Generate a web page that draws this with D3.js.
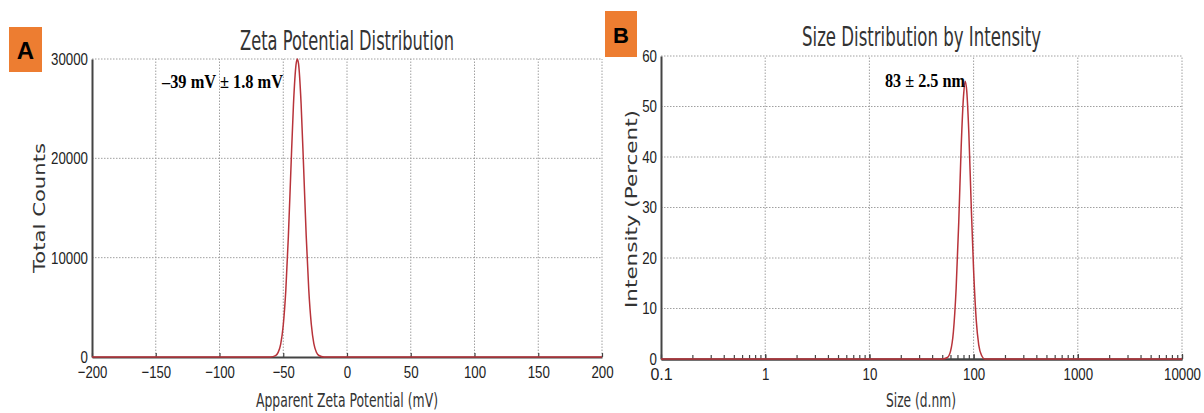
<html>
<head>
<meta charset="utf-8">
<style>
  body { margin: 0; background: #fff; }
  .tick text { font-family: "Liberation Sans", "DejaVu Sans", sans-serif; font-size: 17px; fill: #222; }
  .axis path.domain { stroke: #444; stroke-width: 2; }
  .axis line { stroke: #444; stroke-width: 1.2; }
  .grid { stroke: #a0a0a0; stroke-width: 1; stroke-dasharray: 1.5,1.5; }
</style>
</head>
<body>
<svg id="chart" width="1204" height="413"></svg>

<script src="https://d3js.org/d3.v7.min.js"></script>
<script>

// ---- data ----
// panel A: zeta potential distribution
var zetaMv     = [-200, -60, -56, -54, -52, -50, -48, -46, -44, -42, -40, -39, -38, -36, -34, -32, -30, -28, -26, -24, -22, -18, 200]
var zetaCounts = [0, 0, 140, 470, 1300, 3200, 6700, 12100, 18900, 25400, 29400, 30000, 29500, 25500, 19000, 12200, 6800, 3300, 1350, 480, 150, 0, 0]
var zetaTicks  = [-200, -150, -100, -50, 0, 50, 100, 150, 200]
var countTicks = [0, 10000, 20000, 30000]

// panel B: size distribution by intensity
var sizeNm       = [0.1, 50, 56, 60, 64, 68, 72, 76, 80, 83, 86, 90, 95, 100, 106, 112, 120, 128, 10000]
var intensityPct = [0, 0, 0.3, 1.5, 5.4, 14, 27, 42, 52, 55, 53, 44.8, 30, 17.6, 7.7, 2.8, 0.6, 0, 0]
var sizeTicks    = [0.1, 1, 10, 100, 1000, 10000]
var pctTicks     = [0, 10, 20, 30, 40, 50, 60]

var curveColor = "#b8333a"
var svg = d3.select("#chart")

svg.append("rect").attr("width", 1204).attr("height", 413).attr("fill", "#fff")

// ---- scales ----
var xA = d3.scaleLinear().domain([-200, 200]).range([92, 602])
var yA = d3.scaleLinear().domain([0, 30000]).range([357, 59])

var xB = d3.scaleLog().domain([0.1, 10000]).range([661, 1182])
var yB = d3.scaleLinear().domain([0, 60]).range([359, 56])


// dotted grid (incl. top / right border)
function grid(x, y, xt, yt) {
  svg.append("g").selectAll("line")
    .data(xt.slice(1))
    .enter().append("line")
      .attr("class", "grid")
      .attr("x1", d => x(d)).attr("x2", d => x(d))
      .attr("y1", y.range()[0]).attr("y2", y.range()[1])
  svg.append("g").selectAll("line")
    .data(yt.slice(1))
    .enter().append("line")
      .attr("class", "grid")
      .attr("x1", x.range()[0]).attr("x2", x.range()[1])
      .attr("y1", d => y(d)).attr("y2", d => y(d))
}
grid(xA, yA, zetaTicks, countTicks)
grid(xB, yB, sizeTicks, pctTicks)


// tick labels in the source are squeezed: ~7.4px per character
function squeeze(g) {
  g.selectAll(".tick text")
    .attr("textLength", function() { return this.textContent.length * 7.4 })
    .attr("lengthAdjust", "spacingAndGlyphs")
}

// ---- axes ----
svg.append("g")
  .attr("class", "axis")
  .attr("transform", "translate(0," + yA(0) + ")")
  .call(d3.axisBottom(xA).tickValues(zetaTicks).tickSize(-4).tickSizeOuter(0).tickPadding(9))
  .call(squeeze)

svg.append("g")
  .attr("class", "axis")
  .attr("transform", "translate(" + xA(-200) + ",0)")
  .call(d3.axisLeft(yA).tickValues(countTicks).tickSize(0).tickPadding(4).tickFormat(d3.format("d")))
  .call(squeeze)

// minor log ticks first, major ones on top
svg.append("g")
  .attr("class", "axis")
  .attr("transform", "translate(0," + yB(0) + ")")
  .call(d3.axisBottom(xB).tickValues(xB.ticks()).tickSize(-4).tickSizeOuter(0).tickFormat(""))

svg.append("g")
  .attr("class", "axis")
  .attr("transform", "translate(0," + yB(0) + ")")
  .call(d3.axisBottom(xB).tickValues(sizeTicks).tickSize(-5).tickSizeOuter(0).tickPadding(9).tickFormat(d3.format("~g")))
  .call(squeeze)

svg.append("g")
  .attr("class", "axis")
  .attr("transform", "translate(" + xB(0.1) + ",0)")
  .call(d3.axisLeft(yB).tickValues(pctTicks).tickSize(0).tickPadding(4))
  .call(squeeze)


// ---- curves ----
var lineA = d3.line()
  .curve(d3.curveMonotoneX)
  .x((d, i) => xA(zetaMv[i]))
  .y(d => yA(d))

svg.append("path")
  .attr("d", lineA(zetaCounts))
  .attr("fill", "none")
  .attr("stroke", curveColor)
  .attr("stroke-width", 1.5)

var lineB = d3.line()
  .curve(d3.curveMonotoneX)
  .x((d, i) => xB(sizeNm[i]))
  .y(d => yB(d))

svg.append("path")
  .attr("d", lineB(intensityPct))
  .attr("fill", "none")
  .attr("stroke", curveColor)
  .attr("stroke-width", 1.5)


// ---- titles, axis labels (squeezed like the source image) ----
function label(txt, x, y, size, len, rot) {
  var t = svg.append("text")
    .attr("x", x).attr("y", y)
    .attr("text-anchor", "middle")
    .attr("font-family", "DejaVu Sans, sans-serif")
    .attr("font-size", size)
    .attr("fill", "#333")
    .attr("textLength", len)
    .attr("lengthAdjust", "spacingAndGlyphs")
    .text(txt)
  if (rot) t.attr("transform", "rotate(-90," + x + "," + y + ")")
  return t
}

label("Zeta Potential Distribution", 347, 50, 27, 214)
label("Size Distribution by Intensity", 921.5, 46, 26, 239)
label("Apparent Zeta Potential (mV)", 347, 407, 19.5, 182)
label("Size (d.nm)", 921, 407, 19.5, 70)
label("Total Counts", 45, 208, 15.5, 130, true)
label("Intensity (Percent)", 637, 209, 15.5, 198, true)


// peak annotations
svg.append("text")
  .attr("x", 162).attr("y", 88)
  .attr("font-family", "Liberation Serif, serif").attr("font-weight", "bold")
  .attr("font-size", 19)
  .attr("textLength", 121).attr("lengthAdjust", "spacingAndGlyphs")
  .text("\u201339 mV \u00b1 1.8 mV")

svg.append("text")
  .attr("x", 885).attr("y", 87)
  .attr("font-family", "Liberation Serif, serif").attr("font-weight", "bold")
  .attr("font-size", 19)
  .attr("textLength", 80).attr("lengthAdjust", "spacingAndGlyphs")
  .text("83 \u00b1 2.5 nm")


// panel letters
var letters = [{t: "A", x: 9, y: 27, w: 33, h: 45, by: 59},
               {t: "B", x: 605, y: 11, w: 32, h: 46, by: 43}]

svg.selectAll("rect.letter")
  .data(letters)
  .enter().append("rect")
    .attr("class", "letter")
    .attr("x", d => d.x).attr("y", d => d.y)
    .attr("width", d => d.w).attr("height", d => d.h)
    .attr("fill", "#ed7d31")

svg.selectAll("text.letter")
  .data(letters)
  .enter().append("text")
    .attr("class", "letter")
    .attr("x", d => d.x + d.w / 2).attr("y", d => d.by)
    .attr("text-anchor", "middle")
    .attr("font-family", "Liberation Sans Narrow, Liberation Sans, sans-serif")
    .attr("font-weight", "bold")
    .attr("font-size", d => d.t == "A" ? 24 : 22)
    .text(d => d.t)

</script>
</body>
</html>
